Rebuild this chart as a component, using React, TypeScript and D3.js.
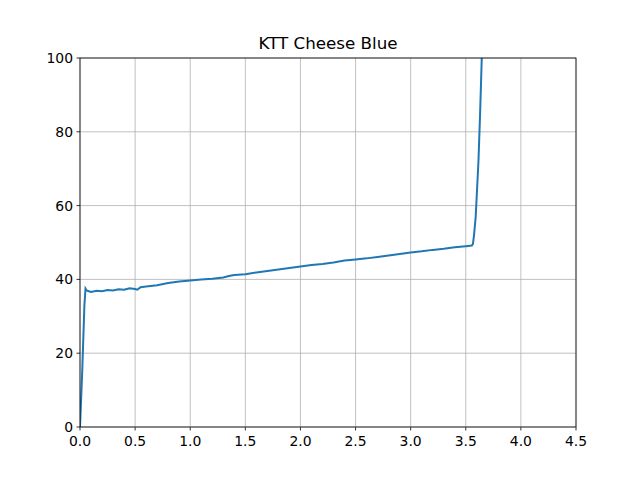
import React from 'react'
import * as d3 from 'd3'

const xs = [0, 0.02, 0.04, 0.05, 0.06, 0.08, 0.1, 0.15, 0.2, 0.25, 0.3, 0.35, 0.4, 0.45, 0.5, 0.52, 0.55, 0.6, 0.7, 0.8, 0.9, 1.0, 1.1, 1.2, 1.3, 1.35, 1.4, 1.5, 1.6, 1.7, 1.8, 1.9, 2.0, 2.1, 2.2, 2.3, 2.4, 2.5, 2.6, 2.7, 2.8, 2.9, 3.0, 3.1, 3.2, 3.3, 3.4, 3.5, 3.555, 3.565, 3.575, 3.59, 3.6, 3.615, 3.63, 3.64, 3.645]
const ys = [0, 15, 33, 37.5, 37, 36.8, 36.6, 36.9, 36.8, 37.1, 37, 37.3, 37.2, 37.6, 37.4, 37.2, 37.9, 38.1, 38.4, 39, 39.4, 39.7, 40, 40.2, 40.5, 40.9, 41.2, 41.4, 41.9, 42.3, 42.7, 43.1, 43.5, 43.9, 44.2, 44.6, 45.1, 45.4, 45.7, 46.1, 46.5, 46.9, 47.3, 47.6, 48, 48.3, 48.7, 49, 49.2, 49.6, 52, 57, 63, 72, 85, 95, 100]
const xTicks = [0, 0.5, 1, 1.5, 2, 2.5, 3, 3.5, 4, 4.5]
const yTicks = [0, 20, 40, 60, 80, 100]

export default function App() {
  const W = 640, H = 480
  const L = 80, R = 576, T = 58, B = 427
  const x = d3.scaleLinear().domain([0, 4.5]).range([L, R])
  const y = d3.scaleLinear().domain([0, 100]).range([B, T])
  const pts: [number, number][] = xs.map((v, i) => [v, ys[i]])
  const line = d3.line<[number, number]>().x(d => x(d[0])).y(d => y(d[1]))
  const font = 'DejaVu Sans, sans-serif'
  return (
    <svg width={W} height={H} style={{ position: 'absolute', left: 0, top: 0 }} fontFamily={font}>
      <rect width={W} height={H} fill="#fff" />
      {xTicks.map(t => (
        <g key={'x' + t}>
          <line x1={x(t)} x2={x(t)} y1={T} y2={B} stroke="#b0b0b0" strokeWidth={0.8} />
          <line x1={x(t)} x2={x(t)} y1={B} y2={B + 3.5} stroke="#000" strokeWidth={0.8} />
          <text x={x(t)} y={B + 19} fontSize={13.9} textAnchor="middle">{t.toFixed(1)}</text>
        </g>
      ))}
      {yTicks.map(t => (
        <g key={'y' + t}>
          <line x1={L} x2={R} y1={y(t)} y2={y(t)} stroke="#b0b0b0" strokeWidth={0.8} />
          <line x1={L - 3.5} x2={L} y1={y(t)} y2={y(t)} stroke="#000" strokeWidth={0.8} />
          <text x={L - 7} y={y(t) + 5} fontSize={13.9} textAnchor="end">{t}</text>
        </g>
      ))}
      <defs>
        <clipPath id="c"><rect x={L} y={T} width={R - L} height={B - T} /></clipPath>
      </defs>
      <path d={line(pts) || ''} fill="none" stroke="#1f77b4" strokeWidth={2} clipPath="url(#c)" />
      <rect x={L} y={T} width={R - L} height={B - T} fill="none" stroke="#000" strokeWidth={0.8} />
      <text x={(L + R) / 2} y={T - 9} fontSize={16.7} textAnchor="middle">KTT Cheese Blue</text>
    </svg>
  )
}
